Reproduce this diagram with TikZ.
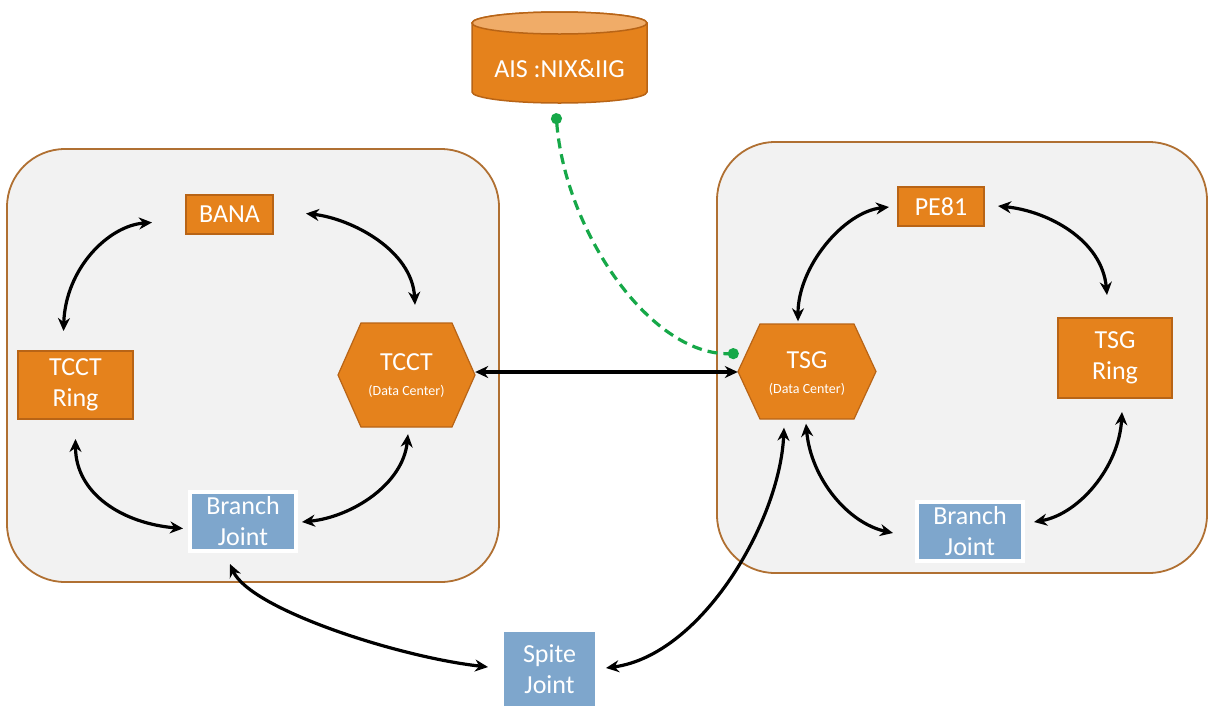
\documentclass[tikz,border=0pt]{standalone}
\usepackage{fontspec}
\setmainfont{Carlito}
\usetikzlibrary{arrows.meta,calc}
\definecolor{orfill}{RGB}{229,130,28}
\definecolor{ordraw}{RGB}{184,100,22}
\definecolor{bjfill}{RGB}{126,166,204}
\definecolor{cfill}{RGB}{242,242,242}
\definecolor{cdraw}{RGB}{176,112,50}
\definecolor{gline}{RGB}{22,168,72}
\definecolor{cyltop}{RGB}{240,172,104}
\begin{document}
\begin{tikzpicture}[x=1pt,y=-1pt,
  container/.style={fill=cfill,draw=cdraw,line width=1.8pt,rounded corners=58pt},
  bigtext/.style={text=white,font=\fontsize{26}{31}\selectfont,align=center,inner sep=0pt},
  obox/.style={bigtext,fill=orfill,draw=ordraw,line width=2pt},
  bbox/.style={bigtext,fill=bjfill,draw=white,line width=4pt},
  hexshape/.style={fill=orfill,draw=ordraw,line width=1.2pt},
  link/.style={line width=3.2pt,{Stealth[length=13pt,width=12pt]}-{Stealth[length=13pt,width=12pt]}},
  aislink/.style={draw=gline,line width=3.2pt,dash pattern=on 10pt off 6pt,{Circle[length=11pt]}-{Circle[length=11pt]}}
]
\useasboundingbox (0,0) rectangle (1208,705);
\fill[white] (0,0) rectangle (1208,705);

% containers
\path[container] (7,149) rectangle (499,582);
\path[container] (717,142) rectangle (1207,573);

% database cylinder
\path[fill=orfill,draw=ordraw,line width=1.5pt] (472,23) -- (472,92)
  arc[start angle=180,end angle=0,x radius=87.5,y radius=11] -- (647,23)
  arc[start angle=0,end angle=-180,x radius=87.5,y radius=11] -- cycle;
\path[fill=cyltop,draw=ordraw,line width=1.5pt] (559.5,23) ellipse[x radius=87.5,y radius=11];
\node[bigtext,minimum width=175pt,minimum height=68pt] (ais) at (559.5,69) {AIS :NIX\&IIG};

% hexagons
\path[hexshape] (406.5,375) ++(-68.5,0) -- ++(23,-52) -- ++(91,0) -- ++(23,52) -- ++(-23,52) -- ++(-91,0) -- cycle;
\path[hexshape] (807,371.5) ++(-69,0) -- ++(22,-47.5) -- ++(94,0) -- ++(22,47.5) -- ++(-22,47.5) -- ++(-94,0) -- cycle;
\node[bigtext,minimum width=137pt,minimum height=104pt] (tcct) at (406.5,376)
  {TCCT\\[-6pt]{\fontsize{14}{16}\selectfont (Data Center)}};
\node[bigtext,minimum width=138pt,minimum height=95pt] (tsg) at (807,374)
  {TSG\\[-6pt]{\fontsize{14}{16}\selectfont (Data Center)}};

% left group
\node[obox,minimum width=87pt,minimum height=39pt] (bana) at (229.5,214.5) {BANA};
\node[obox,minimum width=115pt,minimum height=68pt] (ring) at (75.5,385) {TCCT\\Ring};
\node[bbox,minimum width=106pt,minimum height=59pt] (bjl) at (243,521.5) {Branch\\Joint};

% right group
\node[obox,minimum width=86pt,minimum height=39pt] (pe) at (941,206.5) {PE81};
\node[obox,minimum width=114pt,minimum height=80pt] (tring) at (1115,358) {TSG\\Ring};
\node[bbox,minimum width=106pt,minimum height=59pt] (bjr) at (970,531.5) {Branch\\Joint};

% spite joint
\node[bbox,minimum width=95pt,minimum height=78pt] (spite) at (549.5,669) {Spite\\Joint};

% connectors left
\draw[link] ($(bana.west)+(-33,8)$) .. controls +(-43,3) and +(2,-63) .. ($(ring.north)+(-12,-19)$);
\draw[link] ($(bana.east)+(32,-1)$) .. controls +(45,5) and +(-3,-55) .. ($(tcct.north)+(8.5,-19)$);
\draw[link] ($(ring.south)+(0,19)$) .. controls +(0,55) and +(-60,-5) .. ($(bjl.west)+(-5,7)$);
\draw[link] ($(tcct.south)+(1.5,6)$) .. controls +(-5,50) and +(50,-5) .. ($(bjl.east)+(4,0.5)$);

% connector between data centers
\draw[link] ($(tcct.east)+(0,-4)$) -- ($(tsg.west)+(0,-2)$);

% connectors right
\draw[link] ($(pe.west)+(-8,0.5)$) .. controls +(-45,5) and +(0,-55) .. ($(tsg.north)+(-9,-5)$);
\draw[link] ($(pe.east)+(13,-0.5)$) .. controls +(50,5) and +(-5,-55) .. ($(tring.north)+(-8,-22)$);
\draw[link] ($(tring.south)+(7,13)$) .. controls +(-3,55) and +(45,-8) .. ($(bjr.east)+(9,-9.5)$);
\draw[link] ($(tsg.south)+(-1,2)$) .. controls +(5,55) and +(-45,-10) .. ($(bjr.west)+(-22,1.5)$);

% connectors to spite joint
\draw[link] ($(tsg.south)+(-23,6)$) .. controls +(-4,93) and +(96,-13) .. ($(spite.east)+(7,-1)$);
\draw[link] ($(bjl.south)+(-13,11)$) .. controls +(20,45) and +(-90,-10) .. ($(spite.west)+(-12,-2)$);

% AIS link
\draw[aislink] ($(ais.south)+(-3.5,10)$) .. controls +(9,117) and +(-89,2) .. ($(tsg.west)+(1,-20.5)$);
\end{tikzpicture}
\end{document}
